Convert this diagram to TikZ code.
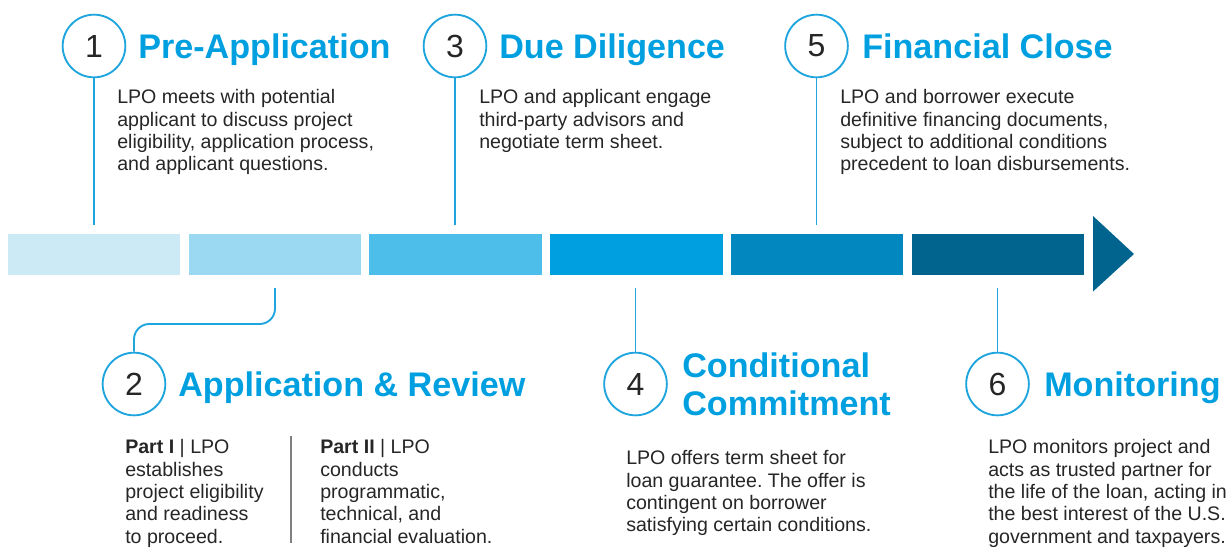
\documentclass[tikz,border=0pt]{standalone}
\usepackage{fontspec}
\setmainfont{Liberation Sans}
\frenchspacing
\definecolor{blu}{HTML}{00A0E0}
\definecolor{lin}{HTML}{1FA5DE}
\definecolor{txt}{HTML}{262626}
\definecolor{s1}{HTML}{CCEAF5}
\definecolor{s2}{HTML}{9BD9F3}
\definecolor{s3}{HTML}{4DBDEA}
\definecolor{s4}{HTML}{00A0E0}
\definecolor{s5}{HTML}{0288BF}
\definecolor{s6}{HTML}{01648F}
\tikzset{
 seg/.style={minimum width=129.4pt,minimum height=30.75pt,inner sep=0pt,anchor=west},
 num/.style={circle,draw=lin,line width=1.4pt,fill=white,minimum size=47pt,inner sep=0pt,font=\fontsize{24}{24}\selectfont,text=txt},
 head/.style={font=\fontsize{25.6}{28.5}\selectfont\bfseries,text=blu,anchor=base west,inner sep=0pt,align=left},
 body/.style={font=\fontsize{14.7}{16.7}\selectfont,text=txt,anchor=north west,inner sep=0pt,align=left},
 conn/.style={draw=lin,line width=1.4pt}
}
\begin{document}
\begin{tikzpicture}[x=0.75pt,y=-0.75pt]
\useasboundingbox (0,0) rectangle (1228,547);
\node[seg,fill=s1] (a) at (7.5,254) {};
\node[seg,fill=s2] (b) at (188.5,254) {};
\node[seg,fill=s3] (c) at (369,254) {};
\node[seg,fill=s4] (d) at (550,254) {};
\node[seg,fill=s5] (e) at (730.5,254) {};
\node[seg,fill=s6] (f) at (911.5,254) {};
\fill[s6] (1093,216) -- (1134,254) -- (1093,291.5) -- cycle;
\node[num] (n1) at (94,46) {1};
\node[num] (n3) at (455,46) {3};
\node[num] (n5) at (816.5,46) {5};
\node[num] (n2) at (134,384) {2};
\node[num] (n4) at (635.5,384) {4};
\node[num] (n6) at (997.5,384) {6};
\coordinate (e1) at (94,224.5);
\coordinate (e3) at (455,224.5);
\coordinate (e5) at (816.5,224.5);
\coordinate (e2) at (275,288);
\coordinate (e4) at (635.5,288);
\coordinate (e6) at (997.5,288);
\draw[conn] (n1) -- (e1);
\draw[conn] (n3) -- (e3);
\draw[conn] (n5) -- (e5);
\draw[conn] (n4) -- (e4);
\draw[conn] (n6) -- (e6);
\draw[conn,rounded corners=11.5pt] (n2.north) -- (134,324) -- (275,324) -- (e2);
\node[head] (h1) at (138,58) {Pre-Application};
\node[head] (h3) at (499,58) {Due Diligence};
\node[head] (h5) at (862,58) {Financial Close};
\node[head] (h2) at (178,396) {Application \& Review};
\node[head] (h4a) at (682,377) {Conditional};
\node[head] (h4b) at (682,415) {Commitment};
\node[head] (h6) at (1044,396) {Monitoring};
\node[body] (t1) at (117,89.5) {LPO meets with potential\\applicant to discuss project\\eligibility, application process,\\and applicant questions.};
\node[body] (t3) at (479,89.5) {LPO and applicant engage\\third-party advisors and\\negotiate term sheet.};
\node[body] (t5) at (840,89.5) {LPO and borrower execute\\definitive financing documents,\\subject to additional conditions\\precedent to loan disbursements.};
\node[body] (t2a) at (125,439.5) {\textbf{Part I} | LPO\\establishes\\project eligibility\\and readiness\\to proceed.};
\node[body] (t2b) at (320,439.5) {\textbf{Part II} | LPO\\conducts\\programmatic,\\technical, and\\financial evaluation.};
\node[body] (t4) at (626,450.5) {LPO offers term sheet for\\loan guarantee. The offer is\\contingent on borrower\\satisfying certain conditions.};
\node[body] (t6) at (988,439.5) {LPO monitors project and\\acts as trusted partner for\\the life of the loan, acting in\\the best interest of the U.S.\\government and taxpayers.};
\coordinate (d1) at (291,436);
\coordinate (d2) at (291,543);
\draw[gray,line width=0.8pt] (d1) -- (d2);
\end{tikzpicture}
\end{document}
